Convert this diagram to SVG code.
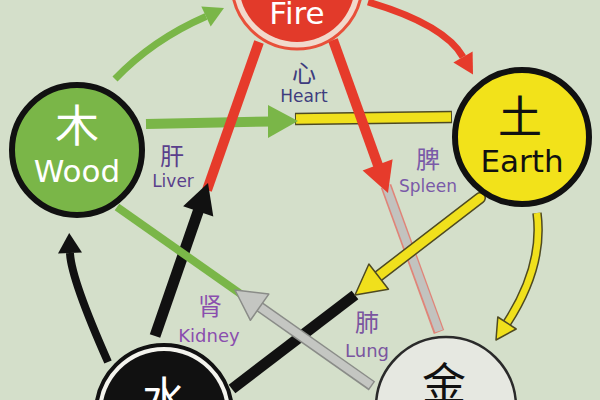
<svg xmlns="http://www.w3.org/2000/svg" width="600" height="400" viewBox="0 0 600 400">
<style>
.lbl{font-family:"DejaVu Sans","Noto Sans",sans-serif;text-anchor:middle;fill:#6e4c9e}
.cjk{font-family:"Noto Sans CJK SC","Noto Sans CJK TC",sans-serif;text-anchor:middle}
.big{font-family:"DejaVu Sans","Noto Sans",sans-serif;text-anchor:middle;font-size:31px}
.g{stroke:#7ab648;fill:none}
.r{stroke:#e63b2b;fill:none}
.k{stroke:#111;fill:none}
.yo{stroke:#4e4a22;fill:none}
.y{stroke:#f0e01c;fill:none}
</style>
<rect width="600" height="400" fill="#d4dfca"/>
<g id="connectors">
  <!-- outer cycle arcs -->
  <path class="g" stroke-width="7" d="M115,79 Q153,39.5 206,16.5"/>
  <polygon fill="#7ab648" points="224,8 210.7,26.4 201.3,6.6"/>
  <path class="r" stroke-width="7" d="M368,2 Q444.5,24.5 463,57"/>
  <polygon fill="#e63b2b" points="473,74.4 472.6,51.6 453.4,62.4"/>
  <path class="yo" stroke-width="9.5" d="M537,213 Q544,266 507,323"/>
  <path class="y" stroke-width="6.5" d="M537,213 Q544,266 507,323"/>
  <polygon fill="#f0e01c" stroke="#4e4a22" stroke-width="1.5" stroke-linejoin="round" points="496,340 516.2,329 497.8,317"/>
  <path class="k" stroke-width="8" d="M108,362 Q71,278.5 70,253"/>
  <polygon fill="#111" points="69.2,233 82,252.5 58,253.5"/>
  <!-- Wood -> Earth -->
  <line x1="295" y1="119" x2="452" y2="117" stroke="#4e4a22" stroke-width="12.5"/>
  <line x1="296" y1="119" x2="451" y2="117" stroke="#f0e01c" stroke-width="9.5"/>
  <line class="g" stroke-width="10" x1="146" y1="124" x2="272" y2="121.5"/>
  <polygon fill="#7ab648" points="298,121 268,105 268,138"/>
  <!-- Fire -> Metal -->
  <line x1="386" y1="186" x2="439" y2="332" stroke="#e08478" stroke-width="11"/>
  <line x1="386" y1="186" x2="439" y2="331" stroke="#c2c3bf" stroke-width="8"/>
  <line class="r" stroke-width="10" x1="333" y1="40" x2="379" y2="168"/>
  <polygon fill="#e63b2b" points="388,193 392.6,159.3 362.6,170.5"/>
  <!-- Water -> Fire -->
  <line class="r" stroke-width="10" x1="207" y1="190" x2="259" y2="42"/>
  <line class="k" stroke-width="11" x1="155" y1="336" x2="199" y2="209"/>
  <polygon fill="#111" points="208,183 213.3,216.6 183.1,206.2"/>
  <!-- Earth -> Water -->
  <line x1="355" y1="295" x2="232" y2="389" stroke="#111" stroke-width="11"/>
  <line x1="480" y1="198" x2="376" y2="278" stroke="#4e4a22" stroke-width="12" stroke-linecap="round"/>
  <line x1="480" y1="198" x2="376" y2="278" stroke="#f0e01c" stroke-width="9" stroke-linecap="round"/>
  <polygon fill="#f0e01c" stroke="#4e4a22" stroke-width="1.5" stroke-linejoin="round" points="355,295 388.5,289.2 368.9,264"/>
  <!-- Metal -> Wood -->
  <line class="g" stroke-width="8" x1="117" y1="207" x2="245" y2="297"/>
  <line x1="372" y1="386" x2="257" y2="305" stroke="#8a8c88" stroke-width="11"/>
  <line x1="371" y1="385" x2="257" y2="305" stroke="#c4c6c2" stroke-width="8"/>
  <polygon fill="#c4c6c2" stroke="#8a8c88" stroke-width="1.5" stroke-linejoin="round" points="235,290 268.8,294.1 250.4,320.3"/>
</g>
<g id="fire">
  <circle cx="297" cy="-16" r="65" fill="#f1d9cc" stroke="#e8503a" stroke-width="3"/>
  <circle cx="297" cy="-16" r="58" fill="#e23a2a"/>
  <text class="big" x="297" y="24" font-size="30" fill="#fff">Fire</text>
</g>
<g id="wood">
  <circle cx="77" cy="150" r="65" fill="#7ab648" stroke="#111" stroke-width="6"/>
  <text class="cjk" x="77" y="142" font-size="44" fill="#fff">木</text>
  <text class="big" x="77" y="182" fill="#fff">Wood</text>
</g>
<g id="earth">
  <circle cx="522" cy="137" r="67" fill="#f2e21a" stroke="#111" stroke-width="6"/>
  <text class="cjk" x="520" y="133" font-size="44" fill="#111">土</text>
  <text class="big" x="522" y="172" fill="#111">Earth</text>
</g>
<g id="water">
  <circle cx="164" cy="413" r="68" fill="#f4f4ee" stroke="#111" stroke-width="4"/>
  <circle cx="164" cy="413" r="62" fill="#111"/>
  <text class="cjk" x="164" y="414" font-size="44" fill="#fff">水</text>
</g>
<g id="metal">
  <circle cx="446" cy="407" r="70" fill="#e6e8e1" stroke="#2a2a2a" stroke-width="2.5"/>
  <text class="cjk" x="444" y="400" font-size="44" fill="#111">金</text>
</g>
<g id="heart">
  <text class="cjk" x="304" y="82" font-size="24" fill="#3e3c7e">心</text>
  <text class="lbl" x="304" y="102" font-size="17" fill="#3e3c7e" style="fill:#3e3c7e">Heart</text>
</g>
<g id="liver">
  <text class="cjk" x="172" y="165" font-size="24" fill="#5a3f8c">肝</text>
  <text class="lbl" x="173" y="187" font-size="17" style="fill:#5a3f8c">Liver</text>
</g>
<g id="spleen">
  <text class="cjk" x="428" y="168" font-size="24" fill="#7a5aa8">脾</text>
  <text class="lbl" x="428" y="192" font-size="17" style="fill:#7a5aa8">Spleen</text>
</g>
<g id="kidney">
  <text class="cjk" x="210" y="315" font-size="24" fill="#8a4eae">肾</text>
  <text class="lbl" x="209" y="342" font-size="18" style="fill:#8a4eae">Kidney</text>
</g>
<g id="lung">
  <text class="cjk" x="367" y="331" font-size="24" fill="#7a55a0">肺</text>
  <text class="lbl" x="367" y="357" font-size="18" style="fill:#7a55a0">Lung</text>
</g>
</svg>
